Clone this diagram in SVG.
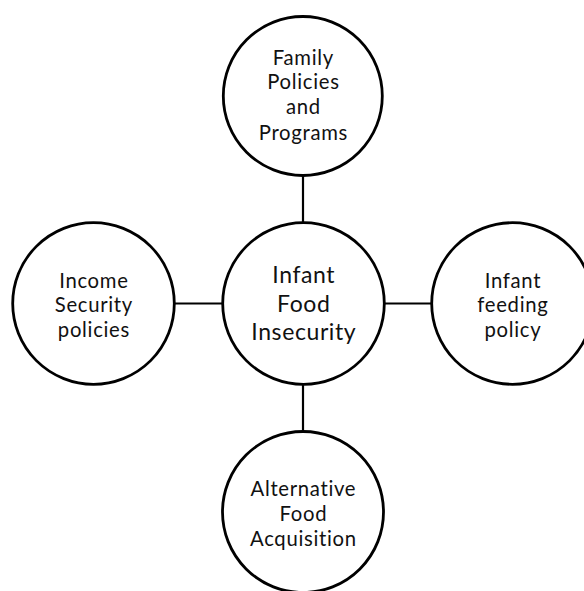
<svg xmlns="http://www.w3.org/2000/svg" width="584" height="591" viewBox="0 0 584 591">
  <style>
    .node circle { fill: #ffffff; stroke: #000000; stroke-width: 2.8; }
    .node text { font-family: Lato, "Open Sans", sans-serif; font-size: 20.3px; letter-spacing: 0.7px; fill: #111111; text-anchor: middle; }
    #hub text { font-size: 23px; letter-spacing: 0.6px; }
    .links line { stroke: #000000; stroke-width: 2.2; }
  </style>
  <rect width="584" height="591" fill="#ffffff"/>
  <g class="links">
    <line x1="303" y1="175" x2="303" y2="223"/>
    <line x1="174" y1="303.5" x2="223" y2="303.5"/>
    <line x1="384" y1="303.5" x2="432" y2="303.5"/>
    <line x1="303" y1="384" x2="303" y2="432"/>
  </g>
  <g id="family" class="node">
    <circle cx="302.8" cy="96" r="79.5"/>
    <text x="303.4" y="64.5">Family</text>
    <text x="303.4" y="89">Policies</text>
    <text x="303.4" y="114">and</text>
    <text x="303.4" y="139.5">Programs</text>
  </g>
  <g id="hub" class="node">
    <circle cx="303.5" cy="303.5" r="80.8"/>
    <text x="303.8" y="283">Infant</text>
    <text x="303.8" y="311.5">Food</text>
    <text x="303.8" y="340">Insecurity</text>
  </g>
  <g id="income" class="node">
    <circle cx="93.5" cy="303.5" r="80.8"/>
    <text x="93.9" y="287.5">Income</text>
    <text x="93.9" y="312">Security</text>
    <text x="93.9" y="336.5">policies</text>
  </g>
  <g id="feeding" class="node">
    <circle cx="512.5" cy="303.5" r="80.8"/>
    <text x="512.9" y="287.5">Infant</text>
    <text x="512.9" y="312">feeding</text>
    <text x="512.9" y="336.5">policy</text>
  </g>
  <g id="acquisition" class="node">
    <circle cx="303" cy="512" r="80.5"/>
    <text x="303.4" y="495.5">Alternative</text>
    <text x="303.4" y="520.5">Food</text>
    <text x="303.4" y="546">Acquisition</text>
  </g>
</svg>
